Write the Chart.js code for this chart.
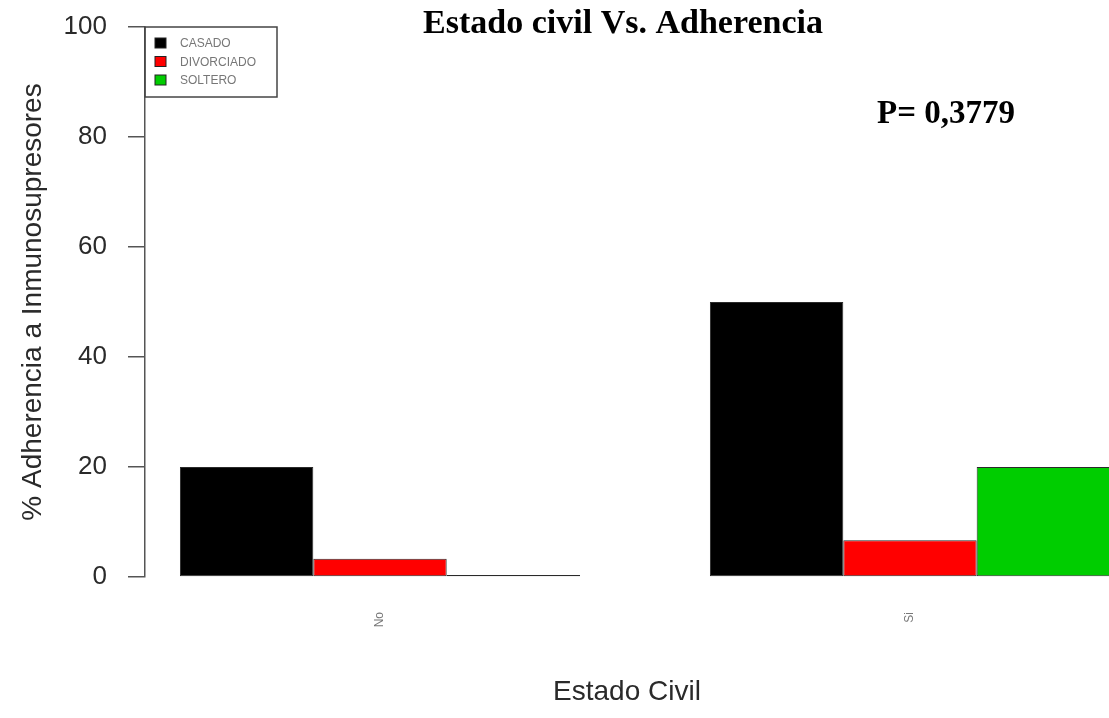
<!DOCTYPE html>
<html>
<head>
<meta charset="utf-8">
<script src="https://cdn.jsdelivr.net/npm/chart.js@4"></script>
<style>
    html, body { margin: 0; padding: 0; background: #fff; overflow: hidden; }
    #wrap { position: relative; width: 1109px; height: 718px; }
</style>
</head>
<body>
<div id="wrap"><canvas id="chart"></canvas></div>
<script>
// datos
const categories = ['No', 'Si'];
const casado = [20, 50];
const divorciado = [3.3, 6.7];
const soltero = [0, 20];
const seriesNames = ['CASADO', 'DIVORCIADO', 'SOLTERO'];
const yTicks = [0, 20, 40, 60, 80, 100];
const chartTitle = 'Estado civil Vs. Adherencia';
const pValue = 'P= 0,3779';

const COLORS = {
    casado: '#000000',
    divorciado: '#ff0000',
    soltero: '#00cd00',
    axis: '#555555',
    text: '#2a2a2a',
    border: '#2a2a2a'
};

const toPoints = (arr) => arr.map((v, i) => ({ x: i + 1, y: v }));

// leyenda y textos sueltos (como en la figura de R)
const extrasPlugin = {
    id: 'extras',
    afterDraw(chart) {
        const { ctx } = chart;
        ctx.save();
        ctx.fillStyle = '#000';
        ctx.textAlign = 'center';
        ctx.textBaseline = 'alphabetic';
        ctx.font = "bold 34px 'Liberation Serif', 'Times New Roman', serif";
        ctx.fillText(chartTitle, 623, 33);
        ctx.textAlign = 'left';
        ctx.font = "bold 33px 'Liberation Serif', 'Times New Roman', serif";
        ctx.fillText(pValue, 877, 123);

        // caja de leyenda
        const lx = chart.chartArea.left, ly = chart.chartArea.top;
        ctx.strokeStyle = '#444';
        ctx.lineWidth = 1.5;
        ctx.strokeRect(lx, ly, 132, 70);
        ctx.font = "12px 'Liberation Sans', Arial, sans-serif";
        ctx.textBaseline = 'middle';
        chart.data.datasets.forEach((ds, i) => {
            const cy = ly + 16 + i * 18.5;
            ctx.fillStyle = ds.legendColor;
            ctx.fillRect(lx + 10, cy - 5, 11, 10);
            ctx.strokeStyle = '#222';
            ctx.lineWidth = 1;
            ctx.strokeRect(lx + 10, cy - 5, 11, 10);
            ctx.fillStyle = '#777';
            ctx.fillText(ds.label, lx + 35, cy + 1);
        });
        ctx.restore();
    }
};

const barStyle = {
    borderColor: COLORS.border,
    borderWidth: 1,
    borderSkipped: false,
    categoryPercentage: 0.755,
    barPercentage: 1
};

new Chart(document.getElementById('chart'), {
    type: 'bar',
    data: {
        datasets: [
            { label: seriesNames[0], data: toPoints(casado), backgroundColor: COLORS.casado, legendColor: COLORS.casado, ...barStyle },
            { label: seriesNames[1], data: toPoints(divorciado), backgroundColor: COLORS.divorciado, legendColor: COLORS.divorciado, ...barStyle },
            {
                label: seriesNames[2], data: toPoints(soltero),
                backgroundColor: (c) => (c.raw && c.raw.y === 0 ? '#777' : COLORS.soltero),
                legendColor: COLORS.soltero,
                minBarLength: 2,
                ...barStyle
            }
        ]
    },
    plugins: [extrasPlugin],
    options: {
        responsive: true,
        maintainAspectRatio: false,
        animation: false,
        layout: { padding: { top: 27, right: 0, bottom: 0, left: 0 } },
        plugins: {
            legend: { display: false },
            title: { display: false },
            tooltip: { enabled: false }
        },
        scales: {
            x: {
                type: 'linear',
                min: 0.5566,
                max: 2.3755,
                offset: false,
                afterBuildTicks: (scale) => { scale.ticks = categories.map((c, i) => ({ value: i + 1 })); },
                afterFit: (scale) => {
                    scale.height = 141;
                    scale.paddingLeft = 0;
                    scale.paddingRight = 0;
                },
                ticks: {
                    callback: (v) => categories[Math.round(v) - 1] || '',
                    minRotation: 90,
                    maxRotation: 90,
                    padding: 35,
                    color: '#777',
                    font: { family: "'Liberation Sans', Arial, sans-serif", size: 12 }
                },
                grid: { display: false, drawTicks: false },
                border: { display: false },
                title: {
                    display: true,
                    text: 'Estado Civil',
                    color: COLORS.text,
                    padding: { top: 0, bottom: 9 },
                    font: { family: "'Liberation Sans', Arial, sans-serif", size: 28 }
                }
            },
            y: {
                min: 0,
                max: 100,
                afterBuildTicks: (scale) => { scale.ticks = yTicks.map(v => ({ value: v })); },
                afterFit: (scale) => {
                    scale.width = 145;
                    scale.paddingTop = 0;
                    scale.paddingBottom = 0;
                },
                ticks: {
                    color: COLORS.text,
                    padding: 21,
                    font: { family: "'Liberation Sans', Arial, sans-serif", size: 26 }
                },
                grid: { drawOnChartArea: false, drawTicks: true, tickLength: 17, color: COLORS.axis, lineWidth: 1.5 },
                border: { display: true, color: COLORS.axis, width: 1.5 },
                title: {
                    display: true,
                    text: '% Adherencia a Inmunosupresores',
                    color: COLORS.text,
                    padding: { top: 16, bottom: 0 },
                    font: { family: "'Liberation Sans', Arial, sans-serif", size: 28 }
                }
            }
        }
    }
});
</script>
</body>
</html>
